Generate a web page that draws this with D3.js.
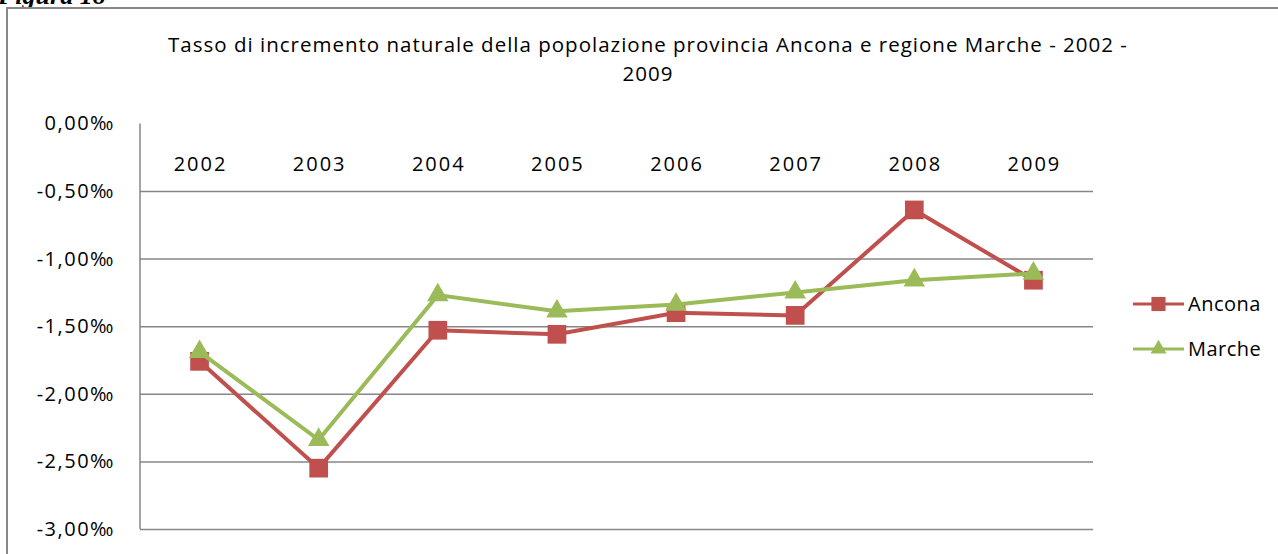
<!DOCTYPE html>
<html>
<head>
<meta charset="utf-8">
<script src="https://cdn.jsdelivr.net/npm/d3@7"></script>
<style>
  body { margin: 0; background: #fff; }
  svg { display: block; }
</style>
</head>
<body>
<svg></svg>
<script>
// data
let years = ['2002', '2003', '2004', '2005', '2006', '2007', '2008', '2009'];
let ancona = [-1.76, -2.55, -1.53, -1.56, -1.40, -1.42, -0.64, -1.16];
let marche = [-1.69, -2.34, -1.27, -1.39, -1.34, -1.25, -1.16, -1.11];
let yTicks = [0, -0.5, -1, -1.5, -2, -2.5, -3];
let titleLines = ['Tasso di incremento naturale della popolazione provincia Ancona e regione Marche - 2002 -', '2009'];

let width = 1278,
    height = 554,
    font = "'Open Sans', sans-serif";

let svg = d3.select('svg')
            .attr('width', width)
            .attr('height', height);

// caption cut off at the top
svg.append('text')
    .attr('x', -2)
    .attr('y', 4)
    .attr('font-family', "'Liberation Serif', serif")
    .attr('font-style', 'italic')
    .attr('font-weight', 'bold')
    .attr('font-size', 26)
    .text('Figura 18');

// chart frame
svg.append('rect')
    .attr('x', 7)
    .attr('y', 8)
    .attr('width', 1300)
    .attr('height', 600)
    .attr('fill', 'none')
    .attr('stroke', '#878787')
    .attr('stroke-width', 2);

svg.selectAll('.title')
    .data(titleLines)
    .enter()
    .append('text')
    .attr('class', 'title')
    .attr('x', 648)
    .attr('y', (d, i) => 52 + i * 29)
    .attr('text-anchor', 'middle')
    .attr('font-family', font)
    .attr('font-size', 20.5)
    .attr('letter-spacing', 1)
    .attr('fill', '#000')
    .text(d => d);

let x = d3.scalePoint()
          .domain(years)
          .range([140, 1093])
          .padding(0.5);

let y = d3.scaleLinear()
          .domain([-3, 0])
          .range([529, 123.4]);

// gridlines + y labels
let yAxis = svg.append('g')
    .attr('transform', 'translate(140,0)')
    .call(d3.axisLeft(y)
      .tickValues(yTicks)
      .tickSize(-(1093 - 140))
      .tickPadding(25)
      .tickFormat(d => d3.format('.2f')(d).replace('.', ',').replace('−', '-') + '‰'));

yAxis.select('.domain').remove();
yAxis.selectAll('.tick line')
    .attr('stroke', '#868686')
    .attr('stroke-width', 1.5)
    .attr('display', d => d === 0 ? 'none' : null);
yAxis.selectAll('.tick text')
    .attr('font-family', font)
    .attr('font-size', 20)
    .attr('letter-spacing', 1.5)
    .attr('fill', '#000');

// vertical axis line
svg.append('line')
    .attr('x1', 140).attr('x2', 140)
    .attr('y1', y(0)).attr('y2', y(-3))
    .attr('stroke', '#868686')
    .attr('stroke-width', 1.5);

// category labels sit under the zero line
svg.append('g')
    .selectAll('text')
    .data(years)
    .enter()
    .append('text')
    .attr('x', d => x(d) + 1)
    .attr('y', 171)
    .attr('text-anchor', 'middle')
    .attr('font-family', font)
    .attr('font-size', 20)
    .attr('letter-spacing', 2)
    .text(d => d);

let series = [
  { name: 'Ancona', values: ancona, color: '#C0504D', marker: d3.symbolSquare, size: 350 },
  { name: 'Marche', values: marche, color: '#9BBB59', marker: d3.symbolTriangle, size: 200 }
];

let line = d3.line()
             .x((d, i) => x(years[i]))
             .y(d => y(d));

series.forEach(s => {
  svg.append('path')
      .datum(s.values)
      .attr('d', line)
      .attr('fill', 'none')
      .attr('stroke', s.color)
      .attr('stroke-width', 4);

  svg.append('g')
      .selectAll('path')
      .data(s.values)
      .enter()
      .append('path')
      .attr('transform', (d, i) => `translate(${x(years[i])},${y(d)})`)
      .attr('d', d3.symbol().type(s.marker).size(s.size))
      .attr('fill', s.color);
});

// legend
let legend = svg.append('g')
    .selectAll('g')
    .data(series)
    .enter()
    .append('g')
    .attr('transform', (d, i) => `translate(1133,${304 + i * 45})`);

legend.append('line')
    .attr('x1', 0).attr('x2', 51)
    .attr('stroke', d => d.color)
    .attr('stroke-width', 3);

legend.append('path')
    .attr('transform', 'translate(25.5,0)')
    .attr('d', d => d3.symbol().type(d.marker).size(d.name === 'Ancona' ? 200 : 110)())
    .attr('fill', d => d.color);

legend.append('text')
    .attr('x', 55)
    .attr('y', 7)
    .attr('font-family', font)
    .attr('font-size', 20)
    .attr('letter-spacing', 0.5)
    .text(d => d.name);
</script>
</body>
</html>
